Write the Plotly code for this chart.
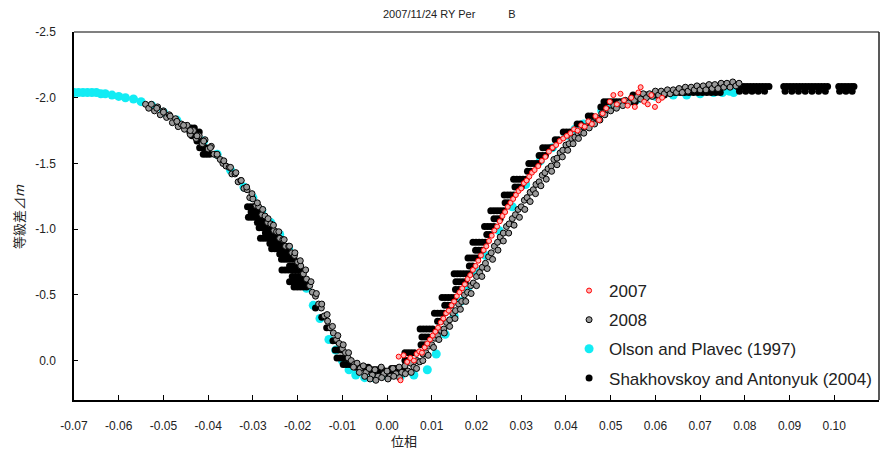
import plotly.graph_objects as go

# ---------------- data ----------------
# 2008 observations (ridge of the band)
phase08 = [
    -0.0540, -0.0533, -0.0527, -0.0520, -0.0513, -0.0507, -0.0500, -0.0493, -0.0487, -0.0480,
    -0.0473, -0.0467, -0.0460, -0.0453, -0.0447, -0.0440, -0.0433, -0.0427, -0.0420, -0.0413,
    -0.0407, -0.0400, -0.0393, -0.0387, -0.0380, -0.0373, -0.0367, -0.0360, -0.0353, -0.0347,
    -0.0340, -0.0333, -0.0327, -0.0320, -0.0313, -0.0307, -0.0300, -0.0293, -0.0287, -0.0280,
    -0.0273, -0.0267, -0.0260, -0.0253, -0.0247, -0.0240, -0.0233, -0.0227, -0.0220, -0.0213,
    -0.0207, -0.0200, -0.0193, -0.0187, -0.0180, -0.0173, -0.0167, -0.0160, -0.0153, -0.0147,
    -0.0140, -0.0133, -0.0127, -0.0120, -0.0113, -0.0107, -0.0100, -0.0093, -0.0087, -0.0080,
    -0.0073, -0.0067, -0.0060, -0.0053, -0.0047, -0.0040, -0.0033, -0.0027, -0.0020, -0.0013,
    -0.0007, 0.0000, 0.0007, 0.0013, 0.0020, 0.0027, 0.0033, 0.0040, 0.0047, 0.0053,
    0.0060, 0.0067, 0.0073, 0.0080, 0.0087, 0.0093, 0.0100, 0.0107, 0.0113, 0.0120,
    0.0127, 0.0133, 0.0140, 0.0147, 0.0153, 0.0160, 0.0167, 0.0173, 0.0180, 0.0187,
    0.0193, 0.0200, 0.0207, 0.0213, 0.0220, 0.0227, 0.0233, 0.0240, 0.0247, 0.0253,
    0.0260, 0.0267, 0.0273, 0.0280, 0.0287, 0.0293, 0.0300, 0.0307, 0.0313, 0.0320,
    0.0327, 0.0333, 0.0340, 0.0347, 0.0353, 0.0360, 0.0367, 0.0373, 0.0380, 0.0387,
    0.0393, 0.0400, 0.0407, 0.0413, 0.0420, 0.0427, 0.0433, 0.0440, 0.0447, 0.0453,
    0.0460, 0.0467, 0.0473, 0.0480, 0.0487, 0.0493, 0.0500, 0.0507, 0.0513, 0.0520,
    0.0527, 0.0533, 0.0540, 0.0547, 0.0553, 0.0560, 0.0567, 0.0573, 0.0580, 0.0587,
    0.0593, 0.0600, 0.0607, 0.0613, 0.0620, 0.0627, 0.0633, 0.0640, 0.0647, 0.0653,
    0.0660, 0.0667, 0.0673, 0.0680, 0.0687, 0.0693, 0.0700, 0.0707, 0.0713, 0.0720,
    0.0727, 0.0733, 0.0740, 0.0747, 0.0753, 0.0760, 0.0767, 0.0773, 0.0780, 0.0787,
]
dm08 = [
    -1.95, -1.92, -1.95, -1.90, -1.93, -1.87, -1.90, -1.85, -1.87, -1.81,
    -1.84, -1.78, -1.80, -1.76, -1.79, -1.72, -1.75, -1.69, -1.71, -1.65,
    -1.68, -1.61, -1.63, -1.57, -1.56, -1.53, -1.50, -1.48, -1.47, -1.42,
    -1.42, -1.36, -1.37, -1.31, -1.30, -1.24, -1.23, -1.18, -1.17, -1.11,
    -1.10, -1.05, -1.04, -0.99, -0.98, -0.93, -0.92, -0.87, -0.87, -0.82,
    -0.80, -0.75, -0.72, -0.66, -0.62, -0.57, -0.52, -0.49, -0.43, -0.40,
    -0.34, -0.30, -0.25, -0.21, -0.16, -0.13, -0.09, -0.06, -0.02, 0.00,
    0.03, 0.02, 0.06, 0.04, 0.09, 0.06, 0.11, 0.07, 0.12, 0.05,
    0.10, 0.08, 0.12, 0.06, 0.10, 0.05, 0.09, 0.04, 0.08, 0.02,
    0.05, 0.00, 0.01, -0.05, -0.06, -0.11, -0.12, -0.17, -0.19, -0.23,
    -0.24, -0.29, -0.31, -0.36, -0.38, -0.43, -0.45, -0.50, -0.52, -0.57,
    -0.59, -0.64, -0.67, -0.71, -0.74, -0.79, -0.82, -0.87, -0.90, -0.94,
    -0.97, -1.02, -1.04, -1.08, -1.11, -1.15, -1.17, -1.22, -1.24, -1.28,
    -1.30, -1.34, -1.36, -1.41, -1.43, -1.46, -1.48, -1.53, -1.54, -1.58,
    -1.60, -1.64, -1.65, -1.69, -1.70, -1.73, -1.74, -1.78, -1.78, -1.82,
    -1.81, -1.85, -1.84, -1.88, -1.87, -1.91, -1.90, -1.94, -1.92, -1.96,
    -1.94, -1.98, -1.96, -2.00, -1.98, -2.01, -1.99, -2.03, -2.00, -2.03,
    -2.01, -2.05, -2.02, -2.05, -2.03, -2.06, -2.03, -2.06, -2.04, -2.07,
    -2.04, -2.08, -2.05, -2.08, -2.06, -2.09, -2.06, -2.09, -2.06, -2.10,
    -2.07, -2.10, -2.07, -2.11, -2.08, -2.11, -2.08, -2.12, -2.09, -2.11,
]
# 2008 observations (fainter / later edge of the band)
phase08_edge = [
    -0.0515, -0.0500, -0.0485, -0.0470, -0.0455, -0.0440, -0.0425, -0.0410, -0.0395, -0.0380,
    -0.0365, -0.0350, -0.0338, -0.0326, -0.0314, -0.0302, -0.0290, -0.0278, -0.0266, -0.0254,
    -0.0242, -0.0230, -0.0218, -0.0206, -0.0194, -0.0182, -0.0170, -0.0158, -0.0146, -0.0134,
    -0.0122, -0.0110, -0.0098, -0.0086, -0.0075, -0.0062, -0.0050, -0.0038, -0.0025, -0.0012,
    0.0002, 0.0015, 0.0028, 0.0041, 0.0054, 0.0066, 0.0080, 0.0092, 0.0104, 0.0116,
    0.0128, 0.0140, 0.0152, 0.0164, 0.0176, 0.0188, 0.0200, 0.0212, 0.0224, 0.0236,
    0.0248, 0.0260, 0.0272, 0.0284, 0.0296, 0.0308, 0.0320, 0.0332, 0.0344, 0.0356,
    0.0368, 0.0380, 0.0392, 0.0404, 0.0416, 0.0428, 0.0440, 0.0452, 0.0464, 0.0476,
]
dm08_edge = [
    -1.92, -1.89, -1.86, -1.82, -1.79, -1.75, -1.71, -1.67, -1.62, -1.57,
    -1.52, -1.47, -1.43, -1.37, -1.32, -1.27, -1.20, -1.15, -1.08, -1.03,
    -0.98, -0.92, -0.87, -0.82, -0.76, -0.69, -0.60, -0.51, -0.43, -0.35,
    -0.26, -0.19, -0.12, -0.06, 0.05, 0.09, 0.12, 0.14, 0.15, 0.13,
    0.14, 0.12, 0.13, 0.10, 0.09, 0.06, 0.00, -0.04, -0.10, -0.16,
    -0.21, -0.26, -0.32, -0.39, -0.45, -0.51, -0.57, -0.64, -0.70, -0.77,
    -0.84, -0.91, -0.97, -1.03, -1.09, -1.15, -1.21, -1.27, -1.33, -1.38,
    -1.44, -1.49, -1.55, -1.60, -1.65, -1.69, -1.73, -1.77, -1.80, -1.83,
]

# 2007 observations
phase07 = [
    0.0026, 0.0037, 0.0030, 0.0045, 0.0052, 0.0060, 0.0066, 0.0072, 0.0078, 0.0084,
    0.0090, 0.0096, 0.0102, 0.0108, 0.0114, 0.0120, 0.0126, 0.0132, 0.0138, 0.0144,
    0.0150, 0.0156, 0.0162, 0.0168, 0.0174, 0.0180, 0.0186, 0.0192, 0.0198, 0.0204,
    0.0210, 0.0216, 0.0222, 0.0228, 0.0234, 0.0240, 0.0246, 0.0252, 0.0258, 0.0264,
    0.0270, 0.0276, 0.0282, 0.0288, 0.0294, 0.0300, 0.0306, 0.0312, 0.0318, 0.0324,
    0.0330, 0.0338, 0.0346, 0.0354, 0.0362, 0.0370, 0.0378, 0.0386, 0.0394, 0.0402,
    0.0410, 0.0418, 0.0426, 0.0434, 0.0442, 0.0450, 0.0458, 0.0466, 0.0474, 0.0482,
    0.0490, 0.0498, 0.0506, 0.0514, 0.0522, 0.0530, 0.0538, 0.0546, 0.0554, 0.0562,
    0.0567, 0.0575, 0.0583, 0.0591, 0.0599, 0.0607, 0.0615,
]
dm07 = [
    -0.03, -0.04, 0.15, 0.01, -0.02, 0.00, -0.05, -0.07, -0.06, -0.10,
    -0.13, -0.16, -0.19, -0.22, -0.25, -0.29, -0.32, -0.36, -0.38, -0.42,
    -0.45, -0.49, -0.52, -0.55, -0.58, -0.62, -0.65, -0.69, -0.72, -0.76,
    -0.80, -0.84, -0.87, -0.91, -0.95, -0.99, -1.02, -1.06, -1.10, -1.13,
    -1.17, -1.20, -1.23, -1.26, -1.29, -1.31, -1.35, -1.37, -1.40, -1.43,
    -1.45, -1.48, -1.52, -1.55, -1.59, -1.62, -1.64, -1.67, -1.69, -1.71,
    -1.73, -1.76, -1.75, -1.79, -1.78, -1.82, -1.80, -1.86, -1.83, -1.88,
    -1.92, -1.97, -2.02, -1.95, -2.03, -1.98, -1.94, -2.00, -1.93, -2.04,
    -2.08, -1.97, -1.95, -2.02, -1.93, -1.98, -2.00,
]

# Olson and Plavec (1997)
phase_olson = [
    -0.0700, -0.0690, -0.0680, -0.0670, -0.0660, -0.0650, -0.0640, -0.0630, -0.0615, -0.0600,
    -0.0585, -0.0567, -0.0550, -0.0526, -0.0500, -0.0470, -0.0440, -0.0410, -0.0380, -0.0350,
    -0.0320, -0.0300, -0.0280, -0.0260, -0.0240, -0.0220, -0.0200, -0.0180, -0.0165, -0.0150,
    -0.0130, -0.0115, -0.0100, -0.0085, -0.0070, -0.0050, -0.0030, 0.0000, 0.0030, 0.0060,
    0.0090, 0.0110, 0.0130, 0.0150, 0.0165, 0.0180, 0.0200, 0.0220, 0.0250, 0.0280,
    0.0310, 0.0343, 0.0370, 0.0400, 0.0420, 0.0440, 0.0460, 0.0480, 0.0500, 0.0530,
    0.0560, 0.0600, 0.0640, 0.0670, 0.0700, 0.0730, 0.0750, 0.0765, 0.0775,
]
dm_olson = [
    -2.04, -2.04, -2.04, -2.04, -2.04, -2.04, -2.03, -2.03, -2.02, -2.01,
    -2.00, -1.99, -1.97, -1.94, -1.89, -1.83, -1.76, -1.67, -1.57, -1.45,
    -1.32, -1.24, -1.14, -1.05, -0.96, -0.85, -0.71, -0.55, -0.42, -0.32,
    -0.16, -0.08, 0.00, 0.07, 0.11, 0.13, 0.13, 0.12, 0.12, 0.11,
    0.07, -0.05, -0.20, -0.34, -0.45, -0.55, -0.68, -0.80, -0.99, -1.17,
    -1.34, -1.52, -1.62, -1.71, -1.76, -1.80, -1.85, -1.90, -1.94, -1.97,
    -1.99, -2.01, -2.02, -2.02, -2.03, -2.04, -2.04, -2.05, -2.04,
]

# Shakhovskoy and Antonyuk (2004) -- descending branch
phase_shak_desc = [
    -0.0445, -0.0438, -0.0431,
    -0.0441, -0.0434, -0.0427, -0.0420,
    -0.0436, -0.0429, -0.0422,
    -0.0425, -0.0418,
    -0.0419, -0.0412, -0.0405,
    -0.0411, -0.0404, -0.0397,
    -0.0312, -0.0305, -0.0298,
    -0.0304, -0.0297, -0.0290, -0.0283,
    -0.0310, -0.0303, -0.0296, -0.0289, -0.0282, -0.0275,
    -0.0290, -0.0283, -0.0276, -0.0269,
    -0.0286, -0.0279, -0.0272, -0.0265, -0.0258,
    -0.0272, -0.0265, -0.0258, -0.0251,
    -0.0283, -0.0276, -0.0269, -0.0262, -0.0255, -0.0248, -0.0241,
    -0.0262, -0.0255, -0.0248, -0.0241, -0.0234,
    -0.0258, -0.0251, -0.0244, -0.0237, -0.0230, -0.0223,
    -0.0240, -0.0233, -0.0226, -0.0219,
    -0.0236, -0.0229, -0.0222, -0.0215, -0.0208,
    -0.0218, -0.0211, -0.0204,
    -0.0235, -0.0228, -0.0221, -0.0214, -0.0207, -0.0200, -0.0193,
    -0.0212, -0.0205, -0.0198, -0.0191,
    -0.0218, -0.0211, -0.0204, -0.0197, -0.0190, -0.0183,
    -0.0208, -0.0201, -0.0194, -0.0187, -0.0180,
    -0.0160,
    -0.0146,
    -0.0135, -0.0128,
    -0.0121, -0.0114,
    -0.0116, -0.0109, -0.0102,
]
dm_shak_desc = [
    -1.77, -1.77, -1.77,
    -1.74, -1.74, -1.74, -1.74,
    -1.71, -1.71, -1.71,
    -1.67, -1.67,
    -1.62, -1.62, -1.62,
    -1.57, -1.57, -1.57,
    -1.17, -1.17, -1.17,
    -1.13, -1.13, -1.13, -1.13,
    -1.09, -1.09, -1.09, -1.09, -1.09, -1.09,
    -1.05, -1.05, -1.05, -1.05,
    -1.01, -1.01, -1.01, -1.01, -1.01,
    -0.97, -0.97, -0.97, -0.97,
    -0.93, -0.93, -0.93, -0.93, -0.93, -0.93, -0.93,
    -0.89, -0.89, -0.89, -0.89, -0.89,
    -0.85, -0.85, -0.85, -0.85, -0.85, -0.85,
    -0.81, -0.81, -0.81, -0.81,
    -0.77, -0.77, -0.77, -0.77, -0.77,
    -0.72, -0.72, -0.72,
    -0.69, -0.69, -0.69, -0.69, -0.69, -0.69, -0.69,
    -0.64, -0.64, -0.64, -0.64,
    -0.60, -0.60, -0.60, -0.60, -0.60, -0.60,
    -0.56, -0.56, -0.56, -0.56, -0.56,
    -0.40,
    -0.33,
    -0.25, -0.25,
    -0.15, -0.15,
    -0.08, -0.08, -0.08,
]
# -- minimum
phase_shak_min = [
    -0.0112, -0.0105, -0.0098, -0.0091,
    -0.0098, -0.0091, -0.0084, -0.0077, -0.0070,
    -0.0070, -0.0063, -0.0056, -0.0049, -0.0042,
    -0.0045, -0.0038, -0.0031, -0.0024, -0.0017, -0.0010,
    -0.0020, -0.0013, -0.0006, 0.0001, 0.0008,
    0.0010, 0.0017, 0.0024, 0.0031, 0.0038,
]
dm_shak_min = [
    -0.02, -0.02, -0.02, -0.02,
    0.03, 0.03, 0.03, 0.03, 0.03,
    0.05, 0.05, 0.05, 0.05, 0.05,
    0.07, 0.07, 0.07, 0.07, 0.07, 0.07,
    0.09, 0.09, 0.09, 0.09, 0.09,
    0.06, 0.06, 0.06, 0.06, 0.06,
]
# -- ascending branch
phase_shak_asc = [
    0.0040, 0.0047,
    0.0040, 0.0047, 0.0054, 0.0061,
    0.0076, 0.0083,
    0.0078, 0.0085, 0.0092,
    0.0074, 0.0081, 0.0088, 0.0095, 0.0102,
    0.0113, 0.0120,
    0.0106, 0.0113, 0.0120, 0.0127,
    0.0129, 0.0136, 0.0143,
    0.0123, 0.0130, 0.0137, 0.0144, 0.0151,
    0.0153, 0.0160,
    0.0154, 0.0161, 0.0168, 0.0175,
    0.0150, 0.0157, 0.0164, 0.0171, 0.0178, 0.0185,
    0.0184, 0.0191,
    0.0181, 0.0188, 0.0195, 0.0202,
    0.0198, 0.0205, 0.0212,
    0.0192, 0.0199, 0.0206, 0.0213, 0.0220,
    0.0223, 0.0230,
    0.0218, 0.0225, 0.0232, 0.0239,
    0.0239, 0.0246, 0.0253,
    0.0232, 0.0239, 0.0246, 0.0253, 0.0260,
    0.0264, 0.0271,
    0.0262, 0.0269, 0.0276, 0.0283,
    0.0286, 0.0293, 0.0300,
    0.0283, 0.0290, 0.0297, 0.0304, 0.0311,
    0.0314, 0.0321,
    0.0317, 0.0324, 0.0331, 0.0338,
    0.0340, 0.0347, 0.0354,
    0.0348, 0.0355, 0.0362, 0.0369,
    0.0376, 0.0383,
    0.0394, 0.0401, 0.0408,
    0.0425, 0.0432,
    0.0450, 0.0457,
    0.0478, 0.0485,
]
dm_shak_asc = [
    0.00, 0.00,
    -0.06, -0.06, -0.06, -0.06,
    -0.12, -0.12,
    -0.18, -0.18, -0.18,
    -0.24, -0.24, -0.24, -0.24, -0.24,
    -0.30, -0.30,
    -0.36, -0.36, -0.36, -0.36,
    -0.42, -0.42, -0.42,
    -0.48, -0.48, -0.48, -0.48, -0.48,
    -0.54, -0.54,
    -0.60, -0.60, -0.60, -0.60,
    -0.66, -0.66, -0.66, -0.66, -0.66, -0.66,
    -0.72, -0.72,
    -0.78, -0.78, -0.78, -0.78,
    -0.84, -0.84, -0.84,
    -0.90, -0.90, -0.90, -0.90, -0.90,
    -0.96, -0.96,
    -1.02, -1.02, -1.02, -1.02,
    -1.08, -1.08, -1.08,
    -1.14, -1.14, -1.14, -1.14, -1.14,
    -1.20, -1.20,
    -1.26, -1.26, -1.26, -1.26,
    -1.32, -1.32, -1.32,
    -1.38, -1.38, -1.38, -1.38, -1.38,
    -1.44, -1.44,
    -1.50, -1.50, -1.50, -1.50,
    -1.56, -1.56, -1.56,
    -1.62, -1.62, -1.62, -1.62,
    -1.68, -1.68,
    -1.74, -1.74, -1.74,
    -1.80, -1.80,
    -1.86, -1.86,
    -1.93, -1.93,
]
# -- maximum (out of eclipse)
phase_shak_max = [
    0.0485, 0.0492, 0.0499, 0.0506, 0.0513, 0.0520, 0.0527, 0.0534, 0.0541, 0.0548, 0.0555,
    0.0550, 0.0560, 0.0570, 0.0580, 0.0590, 0.0600, 0.0610, 0.0620,
    0.0625, 0.0635, 0.0645, 0.0655, 0.0665, 0.0675, 0.0685, 0.0695, 0.0705, 0.0715, 0.0725, 0.0735, 0.0745,
    0.0784, 0.0791, 0.0798, 0.0805, 0.0812, 0.0819, 0.0826, 0.0833, 0.0840, 0.0847, 0.0854,
    0.0788, 0.0802, 0.0816, 0.0830, 0.0844,
    0.0887, 0.0894, 0.0901, 0.0908, 0.0915, 0.0922, 0.0929, 0.0936, 0.0943, 0.0950, 0.0957, 0.0964, 0.0971, 0.0978, 0.0985,
    0.0890, 0.0905, 0.0920, 0.0935, 0.0950, 0.0965, 0.0980,
    0.1010, 0.1017, 0.1024, 0.1031, 0.1038, 0.1044,
    0.1012, 0.1026, 0.1040,
]
dm_shak_max = [
    -1.97, -1.97, -1.97, -1.97, -1.97, -1.97, -1.97, -1.97, -1.97, -1.97, -1.97,
    -2.02, -2.02, -2.02, -2.02, -2.02, -2.02, -2.02, -2.02,
    -2.04, -2.04, -2.04, -2.04, -2.04, -2.04, -2.04, -2.04, -2.04, -2.04, -2.04, -2.04, -2.04,
    -2.085, -2.085, -2.085, -2.085, -2.085, -2.085, -2.085, -2.085, -2.085, -2.085, -2.085,
    -2.05, -2.05, -2.05, -2.05, -2.05,
    -2.085, -2.085, -2.085, -2.085, -2.085, -2.085, -2.085, -2.085, -2.085, -2.085, -2.085, -2.085, -2.085, -2.085, -2.085,
    -2.05, -2.05, -2.05, -2.05, -2.05, -2.05, -2.05,
    -2.085, -2.085, -2.085, -2.085, -2.085, -2.085,
    -2.05, -2.05, -2.05,
]

x_tickvals = [-0.07, -0.06, -0.05, -0.04, -0.03, -0.02, -0.01, 0.00, 0.01, 0.02,
              0.03, 0.04, 0.05, 0.06, 0.07, 0.08, 0.09, 0.10, 0.11]
x_ticktext = ["-0.07", "-0.06", "-0.05", "-0.04", "-0.03", "-0.02", "-0.01", "0.00", "0.01", "0.02",
              "0.03", "0.04", "0.05", "0.06", "0.07", "0.08", "0.09", "0.10", "0.11"]
y_tickvals = [-2.5, -2.0, -1.5, -1.0, -0.5, 0.0]
y_ticktext = ["-2.5", "-2.0", "-1.5", "-1.0", "-0.5", "0.0"]

title_text = "2007/11/24 RY Per\u3000\u3000\u3000B"
xlabel = "位相"
ylabel = "等級差⊿<i>m</i>"

# combined tables built from the arrays above
all_phase08 = phase08 + phase08_edge
all_dm08 = dm08 + dm08_edge
shak_phase = phase_shak_desc + phase_shak_min + phase_shak_asc + phase_shak_max
shak_dm = dm_shak_desc + dm_shak_min + dm_shak_asc + dm_shak_max
assert len(shak_phase) == len(shak_dm)
assert len(all_phase08) == len(all_dm08)
assert len(phase07) == len(dm07) and len(phase_olson) == len(dm_olson)

FONT = "Liberation Sans, Arial, Noto Sans CJK JP, sans-serif"
CJK = "Noto Sans CJK JP, sans-serif"

fig = go.Figure()
fig.add_trace(go.Scatter(
    x=phase_olson, y=dm_olson, mode="markers", name="Olson and Plavec (1997)",
    marker=dict(symbol="circle", size=9, color="#12ecf4", line=dict(width=0)),
    legendrank=3, legendgroup="c"))
fig.add_trace(go.Scatter(
    x=shak_phase, y=shak_dm, mode="markers", name="Shakhovskoy and Antonyuk (2004)",
    marker=dict(symbol="circle", size=7, color="#000000", line=dict(width=0)),
    legendrank=4, legendgroup="d"))
fig.add_trace(go.Scatter(
    x=all_phase08, y=all_dm08, mode="markers", name="2008",
    marker=dict(symbol="circle", size=6, color="#9a9a9a", line=dict(width=1, color="#000000")),
    legendrank=2, legendgroup="b"))
fig.add_trace(go.Scatter(
    x=phase07, y=dm07, mode="markers", name="2007",
    marker=dict(symbol="circle", size=5, color="#ffb4b4", line=dict(width=1, color="#ff0000")),
    legendrank=1, legendgroup="a"))

fig.update_layout(
    width=883, height=450, autosize=False,
    margin=dict(l=74, r=4, t=32, b=50, pad=0),
    paper_bgcolor="white", plot_bgcolor="white",
    font=dict(family=FONT, size=12, color="#000000"),
    showlegend=True,
    legend=dict(x=0.615, y=0.345, xanchor="left", yanchor="top",
                bgcolor="rgba(0,0,0,0)", borderwidth=0,
                font=dict(family=FONT, size=17, color="#222222"),
                tracegroupgap=4, itemsizing="trace"),
    xaxis=dict(range=[-0.07, 0.11], tickmode="array", tickvals=x_tickvals, ticktext=x_ticktext,
               showgrid=False, zeroline=False, showline=True, linecolor="#000000", linewidth=1.5,
               ticks="inside", ticklen=5, tickcolor="#000000", tickwidth=1,
               ticklabelstandoff=14, tickfont=dict(size=12, color="#222222")),
    yaxis=dict(range=[0.3, -2.5], tickmode="array", tickvals=y_tickvals, ticktext=y_ticktext,
               showgrid=False, zeroline=False, showline=True, linecolor="#000000", linewidth=1.5,
               ticks="inside", ticklen=4, tickcolor="#000000", tickwidth=1,
               ticklabelstandoff=14, tickfont=dict(size=12, color="#222222")),
)

# frame: gray top line, dark right line
fig.add_shape(type="line", xref="paper", yref="paper", x0=0, x1=1, y0=1, y1=1,
              line=dict(color="#808080", width=2))
fig.add_shape(type="line", xref="paper", yref="paper", x0=1, x1=1, y0=0, y1=1,
              line=dict(color="#222222", width=1.5))

fig.add_annotation(text=title_text, xref="paper", yref="paper", x=0.467, y=1.049,
                   xanchor="center", yanchor="middle", showarrow=False,
                   font=dict(family=FONT, size=11, color="#222222"))
fig.add_annotation(text=xlabel, xref="paper", yref="paper", x=0.41, y=-0.109,
                   xanchor="center", yanchor="middle", showarrow=False,
                   font=dict(family=CJK, size=13, color="#222222"))
fig.add_annotation(text=ylabel, xref="paper", yref="paper", x=-0.0696, y=0.5,
                   xanchor="center", yanchor="middle", showarrow=False, textangle=-90,
                   font=dict(family=CJK, size=13, color="#222222"))

fig.write_html("out.html", config={"displayModeBar": False},
               post_script="document.body.style.margin='0px';document.body.style.padding='0px';")
